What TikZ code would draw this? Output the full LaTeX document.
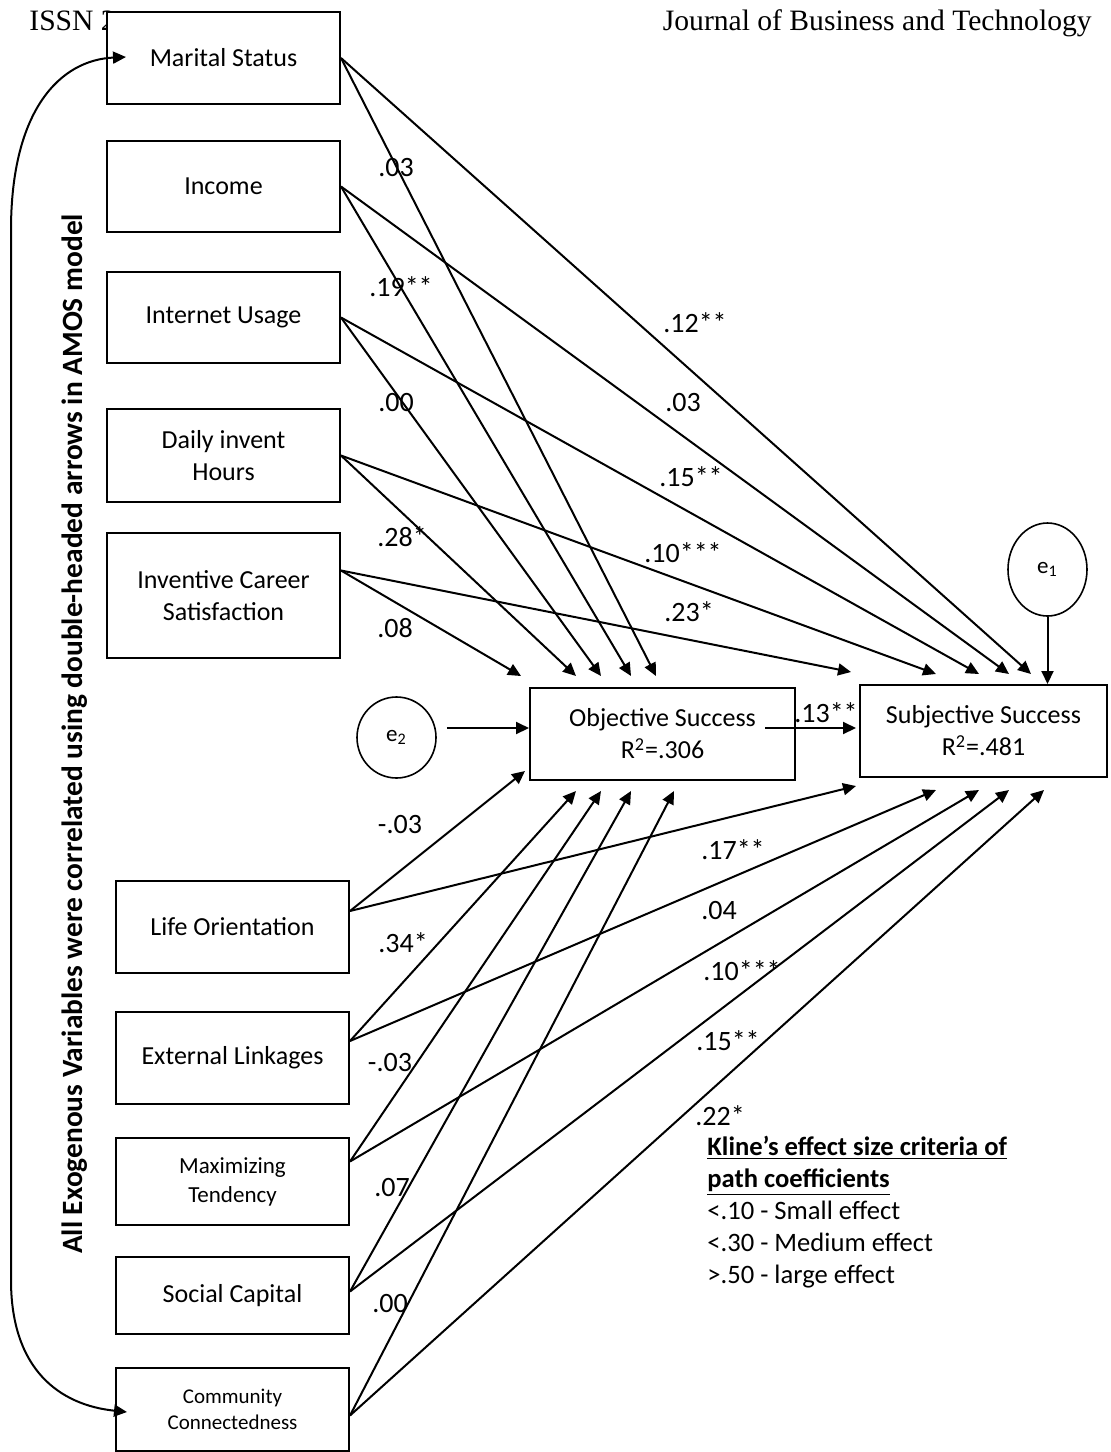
\documentclass[tikz,border=0pt]{standalone}
\usepackage{fontspec}
\setmainfont{Carlito}
\newfontfamily\hdrfont{Liberation Serif}
\usetikzlibrary{arrows.meta,shapes.geometric}

\begin{document}
\begin{tikzpicture}[x=0.5pt,y=-0.5pt,box/.style={draw,line width=1pt,fill=white,align=center,minimum width=116.5pt,inner sep=2pt,font=\fontsize{13}{16}\selectfont},err/.style={draw,ellipse,line width=0.8pt,inner sep=0pt,font=\fontsize{11.5}{14}\selectfont},arrow/.style={-{Triangle[length=6.5pt,width=6pt]},line width=1pt},coef/.style={inner sep=0pt,font=\fontsize{14}{16}\selectfont},hdr/.style={inner sep=0pt,font=\hdrfont\fontsize{14.8}{17}\selectfont}]
\useasboundingbox (0,0) rectangle (1111,1452);
\node[hdr,anchor=base west] (issn) at (29,30) {ISSN 2};
\node[hdr,anchor=base east] (journal) at (1092,30) {Journal of Business and Technology};
% exogenous variables
\node[box,minimum height=46pt] (ms) at (223.5,58) {Marital Status};
\node[box,minimum height=45.5pt] (inc) at (223.5,186.5) {Income};
\node[box,minimum height=45.5pt] (net) at (223.5,317.5) {Internet Usage};
\node[box,minimum height=46.5pt] (daily) at (223.5,455.5) {Daily invent\\Hours};
\node[box,minimum height=62.5pt] (ics) at (223.5,595.5) {Inventive Career\\Satisfaction};
\node[box,minimum height=46pt] (life) at (232.5,927) {Life Orientation};
\node[box,minimum height=46pt] (ext) at (232.5,1058) {External Linkages};
\node[box,minimum height=43.5pt,font=\fontsize{11.5}{14.5}\selectfont] (maxt) at (232.5,1181.5) {Maximizing\\Tendency};
\node[box,minimum height=38.5pt] (soc) at (232.5,1295.5) {Social Capital};
\node[box,minimum height=41.5pt,font=\fontsize{10.5}{13}\selectfont] (comm) at (232.5,1409.5) {Community\\Connectedness};
% outcomes
\node[box,minimum width=132.5pt,minimum height=46pt] (obj) at (662.5,734) {Objective Success\\R\textsuperscript{2}=.306};
\node[box,minimum width=123.5pt,minimum height=46pt] (subj) at (983.5,731) {Subjective Success\\R\textsuperscript{2}=.481};
\node[err,minimum width=39.5pt,minimum height=46.5pt] (e1) at (1047.5,569.5) {e\textsubscript{1}};
\node[err,minimum width=39.5pt,minimum height=40.5pt] (e2) at (396.5,737.5) {e\textsubscript{2}};
\node[rotate=90,inner sep=0pt,font=\bfseries\fontsize{14.7}{17}\selectfont] (note) at (75,734) {All Exogenous Variables were correlated using double-headed arrows in AMOS model};
\node[anchor=west,align=left,inner sep=0pt,font=\fontsize{13.3}{16}\selectfont] (kline) at (707,1212) {\textbf{\underline{Kline’s effect size criteria of}}\\\textbf{\underline{path coefficients}}\\<.10 - Small effect\\<.30 - Medium effect\\>.50 - large effect};
% paths
\draw[arrow] (ms.east)--([shift={(127,-11)}]obj.north west); \draw[arrow] (ms.east)--([shift={(172,-10)}]subj.north west);
\draw[arrow] (inc.east)--([shift={(102,-11)}]obj.north west); \draw[arrow] (inc.east)--([shift={(150,-10)}]subj.north west);
\draw[arrow] (net.east)--([shift={(72,-11)}]obj.north west); \draw[arrow] (net.east)--([shift={(120,-10)}]subj.north west);
\draw[arrow] (daily.east)--([shift={(47,-11)}]obj.north west); \draw[arrow] (daily.east)--([shift={(77,-10)}]subj.north west);
\draw[arrow] ([shift={(0,-25)}]ics.east)--([shift={(-8,-11)}]obj.north west); \draw[arrow] ([shift={(0,-25)}]ics.east)--([shift={(-8,-12)}]subj.north west);
\draw[arrow] ([shift={(0,-16)}]life.east)--([shift={(-4,-10)}]obj.south west); \draw[arrow] ([shift={(0,-16)}]life.east)--([shift={(-3,8)}]subj.south west);
\draw[arrow] ([shift={(0,-17)}]ext.east)--([shift={(47,10)}]obj.south west); \draw[arrow] ([shift={(0,-17)}]ext.east)--([shift={(77,12)}]subj.south west);
\draw[arrow] ([shift={(0,-20)}]maxt.east)--([shift={(72,10)}]obj.south west); \draw[arrow] ([shift={(0,-20)}]maxt.east)--([shift={(120,12)}]subj.south west);
\draw[arrow] ([shift={(0,-4)}]soc.east)--([shift={(102,10)}]obj.south west); \draw[arrow] ([shift={(0,-4)}]soc.east)--([shift={(150,12)}]subj.south west);
\draw[arrow] ([shift={(0,6)}]comm.east)--([shift={(145,10)}]obj.south west); \draw[arrow] ([shift={(0,6)}]comm.east)--([shift={(185,12)}]subj.south west);
\draw[arrow] ([shift={(-31,-6)}]obj.east)--([shift={(-3,-3)}]subj.west);
\draw[arrow] ([shift={(10,-9.5)}]e2.east)--([shift={(0,-6)}]obj.west);
\draw[arrow] (e1.south)--(e1.south |- subj.north);
% correlations among exogenous variables
\draw[arrow,{Triangle[length=6.5pt,width=6pt]}-{Triangle[length=6.5pt,width=6pt]}] ([shift={(20,-1)}]ms.west) .. controls (60,60) and (11,110) .. (11,230) -- (11,1280) .. controls (11,1370) and (60,1405) .. ([shift={(12,2.5)}]comm.west);
% coefficients
\node[coef] (c1) at (396,168) {.03}; \node[coef] (c2) at (401,287) {.19**}; \node[coef] (c3) at (396,403) {.00};
\node[coef] (c4) at (402,537) {.28*}; \node[coef] (c5) at (395,628) {.08};
\node[coef] (c6) at (695,323) {.12**}; \node[coef] (c7) at (683,403) {.03}; \node[coef] (c8) at (691,477) {.15**};
\node[coef] (c9) at (683,553) {.10***}; \node[coef] (c10) at (689,612) {.23*}; \node[coef] (c11) at (826,713) {.13**};
\node[coef] (c12) at (400,825) {-.03}; \node[coef] (c13) at (403,943) {.34*}; \node[coef] (c14) at (390,1063) {-.03};
\node[coef] (c15) at (392,1188) {.07}; \node[coef] (c16) at (390,1304) {.00};
\node[coef] (c17) at (733,850) {.17**}; \node[coef] (c18) at (719,911) {.04}; \node[coef] (c19) at (742,971) {.10***};
\node[coef] (c20) at (728,1041) {.15**}; \node[coef] (c21) at (720,1116) {.22*};
\end{tikzpicture}
\end{document}
